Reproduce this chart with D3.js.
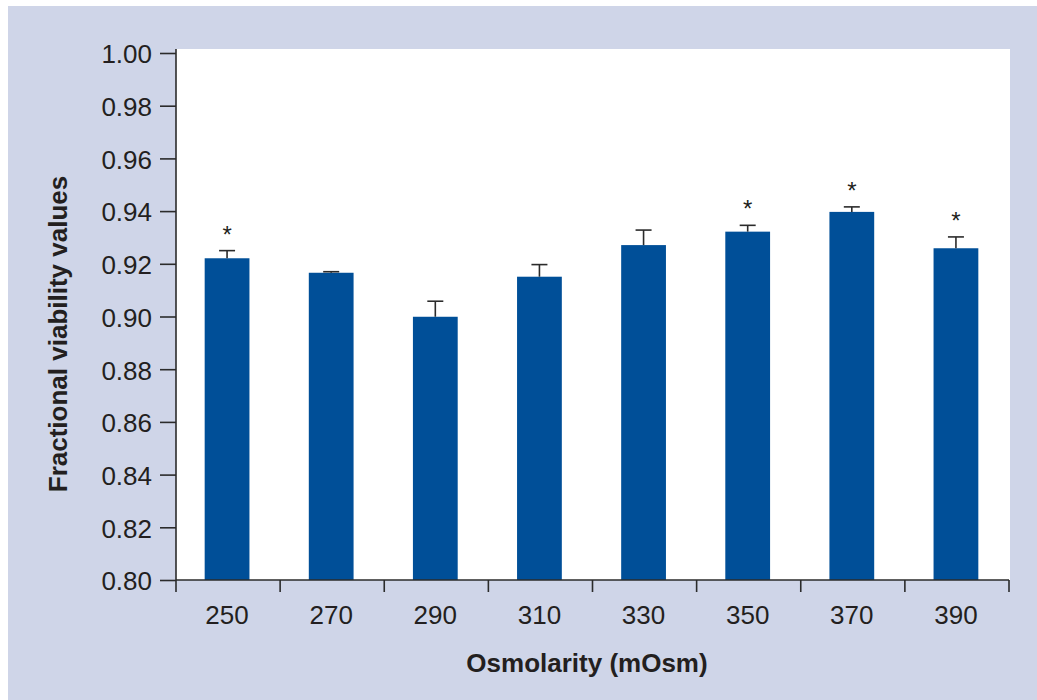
<!DOCTYPE html>
<html>
<head>
<meta charset="utf-8">
<script src="https://cdn.jsdelivr.net/npm/d3@7"></script>
<style>
  body { margin: 0; background: #fff; }
  text { font-family: "Liberation Sans", Arial, Helvetica, sans-serif; fill: #231f20; }
</style>
</head>
<body>
<svg id="chart" width="1037" height="700"></svg>
<script>
// osmolarity groups and measured viability
var osmolarity = ["250", "270", "290", "310", "330", "350", "370", "390"];
var viability = [0.9221, 0.9166, 0.8999, 0.9151, 0.9271, 0.9322, 0.9397, 0.9259];
var errorTop = [0.9250, 0.9170, 0.9058, 0.9197, 0.9328, 0.9346, 0.9416, 0.9302];
var significant = [true, false, false, false, false, true, true, true];
var yTicks = [0.80, 0.82, 0.84, 0.86, 0.88, 0.90, 0.92, 0.94, 0.96, 0.98, 1.00];

var svg = d3.select("#chart");

var plotLeft = 176, plotRight = 1009
  , plotTop = 53, plotBottom = 580;

var barColor = "#004f98"
  , inkColor = "#2b2b2b";

// lavender panel behind everything
svg.append("rect")
  .attr("x", 8).attr("y", 6)
  .attr("width", 1037 - 8).attr("height", 700 - 6)
  .attr("fill", "#cfd5e8");

// white plotting area
svg.append("rect")
  .attr("x", plotLeft).attr("y", 49)
  .attr("width", plotRight - plotLeft + 1).attr("height", plotBottom - 49)
  .attr("fill", "#ffffff");

var x = d3.scaleBand()
  .domain(osmolarity)
  .range([plotLeft, plotRight])
  .paddingInner(0.57)
  .paddingOuter(0.285);

var y = d3.scaleLinear()
  .domain([0.80, 1.00])
  .range([plotBottom, plotTop]);

// bars
svg.selectAll(".bar")
  .data(osmolarity)
 .enter().append("rect")
  .attr("class", "bar")
  .attr("x", d => x(d) - 1)
  .attr("width", x.bandwidth())
  .attr("y", (d, i) => y(viability[i]))
  .attr("height", (d, i) => y(0.80) - y(viability[i]))
  .attr("fill", barColor);

// upper error bars
var err = svg.append("g").attr("class", "errors")
  .attr("stroke", inkColor).attr("stroke-width", 1.6).attr("fill", "none");
osmolarity.forEach(function(d, i) {
  var cx = x(d) - 1 + x.bandwidth() / 2;
  err.append("line")
    .attr("x1", cx).attr("x2", cx)
    .attr("y1", y(viability[i])).attr("y2", y(errorTop[i]));
  err.append("line")
    .attr("x1", cx - 8).attr("x2", cx + 8)
    .attr("y1", y(errorTop[i])).attr("y2", y(errorTop[i]));
});

// significance stars
svg.selectAll(".star")
  .data(osmolarity.filter((d, i) => significant[i]))
 .enter().append("text")
  .attr("class", "star")
  .attr("x", d => x(d) - 1 + x.bandwidth() / 2)
  .attr("y", d => y(errorTop[osmolarity.indexOf(d)]) - 8)
  .attr("text-anchor", "middle")
  .style("font-size", "24px")
  .text("*");

// y axis
var yAxis = svg.append("g")
  .attr("transform", "translate(" + plotLeft + ",0)")
  .call(d3.axisLeft(y).tickValues(yTicks).tickFormat(d3.format(".2f")).tickSize(16).tickPadding(8));
yAxis.select(".domain").attr("d", "M0,49V" + plotBottom);

// x axis: ticks sit on the band edges
var edges = osmolarity.map(d => x(d) - x.step() * x.paddingInner() / 2).concat([plotRight]);
var xAxis = svg.append("g").attr("class", "xaxis");
xAxis.append("line")
  .attr("x1", plotLeft).attr("x2", plotRight)
  .attr("y1", plotBottom).attr("y2", plotBottom);
xAxis.selectAll(".xtick")
  .data(edges)
 .enter().append("line")
  .attr("class", "xtick")
  .attr("x1", d => d).attr("x2", d => d)
  .attr("y1", plotBottom).attr("y2", plotBottom + 12);
xAxis.selectAll(".xlabel")
  .data(osmolarity)
 .enter().append("text")
  .attr("class", "xlabel")
  .attr("x", d => x(d) - 1 + x.bandwidth() / 2)
  .attr("y", 624)
  .attr("text-anchor", "middle")
  .style("font-size", "26px")
  .text(d => d);

svg.selectAll(".domain, .tick line, .xaxis line")
  .attr("stroke", inkColor).attr("stroke-width", 1.6);
yAxis.selectAll(".tick text")
  .style("font-size", "26px")
  .attr("dy", "0.38em")
  .attr("fill", "#231f20");
yAxis.attr("font-family", null).attr("font-size", null);

// axis titles
svg.append("text")
  .attr("x", 587).attr("y", 672)
  .attr("text-anchor", "middle")
  .style("font-size", "26px").style("font-weight", "bold")
  .text("Osmolarity (mOsm)");

svg.append("text")
  .attr("transform", "translate(67,334) rotate(-90)")
  .attr("text-anchor", "middle")
  .style("font-size", "26px").style("font-weight", "bold")
  .text("Fractional viability values");
</script>
</body>
</html>
